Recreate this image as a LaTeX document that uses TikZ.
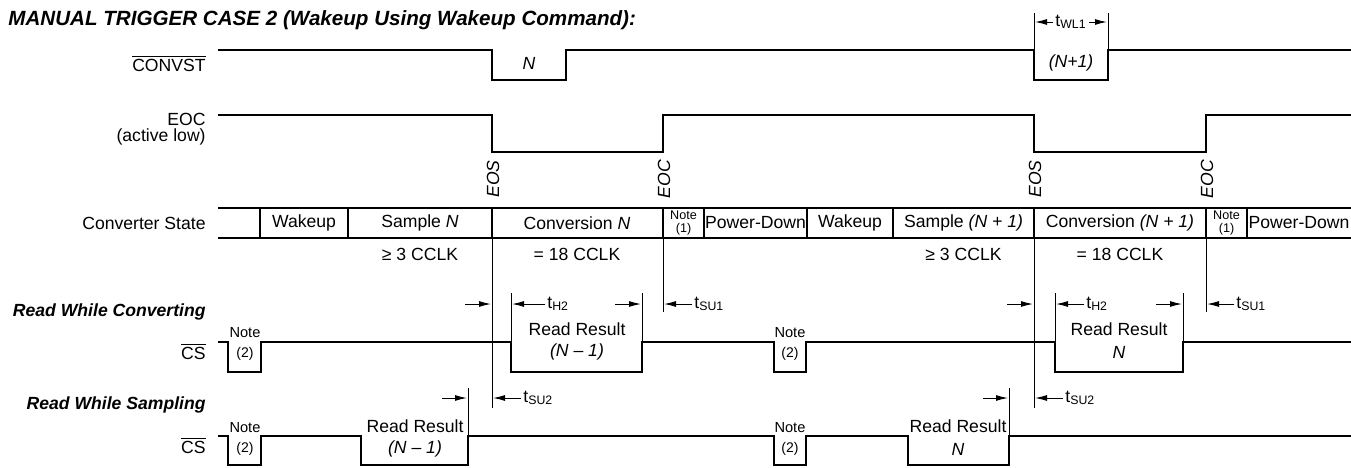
\documentclass[tikz,border=0pt]{standalone}
\usepackage{fontspec}
\setmainfont{Liberation Sans}
\usepackage{tikz}
\usetikzlibrary{arrows.meta, positioning}

\newcommand{\tsub}[1]{t\textsubscript{#1}}
\newcommand{\ovl}[1]{$\overline{\mbox{#1}}$}

\begin{document}
\begin{tikzpicture}[x=0.5pt, y=-0.5pt,
  every node/.style={font=\fontsize{8.8}{10.5}\selectfont, inner sep=1pt},
  ital/.style={font=\fontsize{8.8}{10.5}\selectfont\itshape},
  boldital/.style={font=\fontsize{8.8}{10.5}\selectfont\bfseries\itshape},
  sig/.style={line width=1.2pt},
  thin/.style={line width=0.5pt},
  tarrow/.style={line width=0.5pt, -{Latex[length=6pt, width=3pt]}},
  lbl/.style={anchor=east},
  note/.style={font=\fontsize{7.3}{7.5}\selectfont},
  notenum/.style={font=\fontsize{7}{7.2}\selectfont},
  cellnote/.style={font=\fontsize{6.3}{6.4}\selectfont, align=center}
]
  \useasboundingbox (0,0) rectangle (1351,467);

  % title
  \node[anchor=base west, font=\fontsize{10.3}{12}\selectfont\bfseries\itshape] (title) at (6,25)
    {MANUAL TRIGGER CASE 2 (Wakeup Using Wakeup Command):};

  % signal names
  \node[lbl] (lconvst) at (208,63) {\ovl{CONVST}};
  \node[lbl] (leoc) at (208,119) {EOC};
  \node[lbl] (lactive) at (208,137) {(active low)};
  \node[lbl] (lstate) at (208,223) {Converter State};
  \node[lbl, boldital] (lrwc) at (208,312) {Read While Converting};
  \node[lbl] (lcs1) at (208,351) {\ovl{CS}};
  \node[lbl, boldital] (lrws) at (208,405) {Read While Sampling};
  \node[lbl] (lcs2) at (208,445) {\ovl{CS}};

  % CONVST
  \draw[sig] (218,50) -- (492,50) |- (566,80) |- (1034,50) |- (1108,80) |- (1351,50);
  \node[ital] (pn) at (529,63) {N};
  \node[ital] (pn1) at (1071,63) {(N+1)};
  \draw[thin] (1034,13) -- (1034,50) (1108,13) -- (1108,50);
  \node (twl) at (1071,22) {\tsub{WL1}};
  \draw[tarrow] (twl.west) -- (1035,22);
  \draw[tarrow] (twl.east) -- (1107,22);

  % EOC
  \draw[sig] (218,115) -- (492,115) |- (663,152) |- (1034,115) |- (1206,152) |- (1351,115);
  \node[ital, rotate=90] (eos1) at (493,179) {EOS};
  \node[ital, rotate=90] (eoc1) at (664,179) {EOC};
  \node[ital, rotate=90] (eos2) at (1035,179) {EOS};
  \node[ital, rotate=90] (eoc2) at (1207,179) {EOC};

  % converter state
  \draw[sig] (218,208) -- (1351,208) (218,238) -- (1351,238);
  \foreach \x in {260,348,492,663,704,807,893,1034,1206,1247}
    \draw[sig] (\x,208) -- (\x,238);
  \node (s1) at (304,223) {Wakeup};
  \node (s2) at (420,223) {Sample \textit{N}};
  \node (s3) at (577,223) {Conversion \textit{N}};
  \node[cellnote] (s4) at (683.5,223) {Note\\(1)};
  \node (s5) at (755.5,223) {Power-Down};
  \node (s6) at (850,223) {Wakeup};
  \node (s7) at (963.5,223) {Sample \textit{(N + 1)}};
  \node (s8) at (1120,223) {Conversion \textit{(N + 1)}};
  \node[cellnote] (s9) at (1226.5,223) {Note\\(1)};
  \node (s10) at (1299,223) {Power-Down};
  \node (c1) at (420,254) {≥ 3 CCLK};
  \node (c2) at (577,254) {= 18 CCLK};
  \node (c3) at (963.5,254) {≥ 3 CCLK};
  \node (c4) at (1120,254) {= 18 CCLK};

  % edge markers
  \draw[thin] (492,238) -- (492,408) (1034,238) -- (1034,408);
  \draw[thin] (663,238) -- (663,312) (1206,238) -- (1206,312);

  % read while converting
  \draw[sig] (218,342) -- (228,342) |- (261,372) |- (511,342) |- (642,372) |- (774,342)
    |- (806,372) |- (1055,342) |- (1183,372) |- (1351,342);
  \node[note] (na1) at (245,333) {Note};
  \node[notenum] (na2) at (245,354) {(2)};
  \node[note] (na3) at (790,333) {Note};
  \node[notenum] (na4) at (790,354) {(2)};
  \node (ra1) at (577,329) {Read Result};
  \node[ital] (ra2) at (577,352) {(N -- 1)};
  \node (ra3) at (1119,329) {Read Result};
  \node[ital] (ra4) at (1119,352) {N};

  \draw[tarrow] (465,304) -- (491,304);
  \draw[thin] (511,293) -- (511,342) (642,293) -- (642,342);
  \node[anchor=west] (th1) at (545,304) {\tsub{H2}};
  \draw[tarrow] (th1.west) -- (512,304);
  \draw[tarrow] (615,304) -- (641,304);
  \node[anchor=west] (tsu1a) at (692,304) {\tsub{SU1}};
  \draw[tarrow] (tsu1a.west) -- (664,304);

  \draw[tarrow] (1007,304) -- (1033,304);
  \draw[thin] (1055,293) -- (1055,342) (1183,293) -- (1183,342);
  \node[anchor=west] (th2) at (1084,304) {\tsub{H2}};
  \draw[tarrow] (th2.west) -- (1056,304);
  \draw[tarrow] (1156,304) -- (1182,304);
  \node[anchor=west] (tsu1b) at (1234,304) {\tsub{SU1}};
  \draw[tarrow] (tsu1b.west) -- (1207,304);

  % read while sampling
  \draw[sig] (218,436) -- (228,436) |- (261,465) |- (361,436) |- (468,465) |- (774,436)
    |- (806,465) |- (908,436) |- (1009,465) |- (1351,436);
  \node[note] (nb1) at (245,428) {Note};
  \node[notenum] (nb2) at (245,449) {(2)};
  \node[note] (nb3) at (790,428) {Note};
  \node[notenum] (nb4) at (790,449) {(2)};
  \node (rb1) at (415,426) {Read Result};
  \node[ital] (rb2) at (415,449) {(N -- 1)};
  \node (rb3) at (958,426) {Read Result};
  \node[ital] (rb4) at (958,449) {N};

  \draw[thin] (468,388) -- (468,436) (1009,388) -- (1009,436);
  \draw[tarrow] (442,398) -- (467,398);
  \node[anchor=west] (tsu2a) at (521,398) {\tsub{SU2}};
  \draw[tarrow] (tsu2a.west) -- (493,398);
  \draw[tarrow] (983,398) -- (1008,398);
  \node[anchor=west] (tsu2b) at (1063,398) {\tsub{SU2}};
  \draw[tarrow] (tsu2b.west) -- (1035,398);
\end{tikzpicture}
\end{document}
